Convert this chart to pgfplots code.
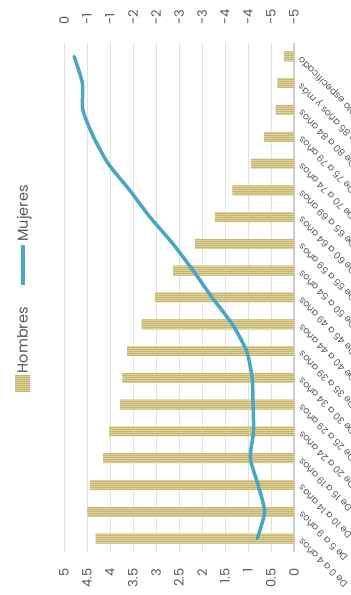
\documentclass[border=0pt]{standalone}
\usepackage{fontspec}
\setmainfont{Poppins}
\usepackage{graphicx}
\usepackage{pgfplots}
\pgfplotsset{compat=1.18}
\usetikzlibrary{patterns.meta}

\definecolor{hombres}{HTML}{DBD095}
\definecolor{hombresln}{HTML}{C6B874}
\definecolor{mujeres}{HTML}{4BA5C4}
\definecolor{txt}{HTML}{595959}
\definecolor{gridc}{HTML}{E2E2E2}
\definecolor{axisc}{HTML}{CDCDCD}

\begin{document}
\rotatebox{90}{%
\begin{tikzpicture}
\begin{axis}[
  name=main,
  scale only axis, width=509pt, height=230pt,
  xmin=-0.5, xmax=18.5, ymin=0, ymax=5,
  xtick={0,...,18},
  xticklabels={De 0 a 4 años, De 5 a 9 años, De 10 a 14 años, De 15 a 19 años,
    De 20 a 24 años, De 25 a 29 años, De 30 a 34 años, De 35 a 39 años,
    De 40 a 44 años, De 45 a 49 años, De 50 a 54 años, De 55 a 59 años,
    De 60 a 64 años, De 65 a 69 años, De 70 a 74 años, De 75 a 79 años,
    De 80 a 84 años, De 85 años y más, No especificado},
  ytick={0,0.5,...,5},
  ymajorgrids, grid style={gridc, line width=0.9pt},
  axis lines*=left,
  y axis line style={draw=none},
  x axis line style={axisc, line width=1.8pt},
  tick style={draw=none},
  /pgf/number format/assume math mode=true,
  yticklabel style={font=\fontsize{13}{13}\selectfont, text=txt, xshift=-13pt},
  xticklabel style={rotate=45, anchor=east, font=\fontsize{9.5}{9.5}\selectfont,
    text=txt, xshift=-2pt, yshift=-3pt},
  legend columns=2,
  legend style={at={(0.52,1.178)}, anchor=center, draw=none, fill=none,
    font=\fontsize{14.5}{14.5}\selectfont, text=txt,
    /tikz/every even column/.append style={column sep=18pt}},
]
\addplot[ybar, bar width=10pt, fill=hombres, draw=none,
  postaction={pattern={Lines[angle=0,distance=2pt,line width=0.45pt]}, pattern color=hombresln},
  legend image code/.code={\fill[hombres] (0pt,-7pt) rectangle (16pt,8pt);
    \fill[pattern={Lines[angle=0,distance=2pt,line width=0.45pt]}, pattern color=hombresln] (0pt,-7pt) rectangle (16pt,8pt);}]
coordinates {
  (0,4.31) (1,4.49) (2,4.44) (3,4.15) (4,4.02) (5,3.78) (6,3.73) (7,3.63)
  (8,3.31) (9,3.02) (10,2.63) (11,2.15) (12,1.72) (13,1.34) (14,0.93)
  (15,0.65) (16,0.40) (17,0.36) (18,0.22)
};
\addlegendentry{Hombres}
\addlegendimage{legend image code/.code={\draw[mujeres, line width=3.5pt] (0pt,0pt) -- (40pt,0pt);}}
\addlegendentry{Mujeres}
\end{axis}

\begin{axis}[
  scale only axis, width=509pt, height=230pt,
  xmin=-0.5, xmax=18.5, ymin=-5, ymax=0,
  hide x axis,
  axis y line*=right,
  y axis line style={draw=none},
  tick style={draw=none},
  ytick={-5,-4.5,...,0},
  yticklabels={-5,-5,-4,-4,-3,-3,-2,-2,-1,-1,0},
  yticklabel style={font=\fontsize{13}{13}\selectfont, text=txt, xshift=15pt},
]
\addplot[mujeres, line width=3.5pt, line cap=round, line join=round, smooth, tension=0.4]
coordinates {
  (0,-4.20) (1,-4.36) (2,-4.22) (3,-4.05) (4,-4.12) (5,-4.11) (6,-4.09)
  (7,-3.97) (8,-3.66) (9,-3.22) (10,-2.81) (11,-2.37) (12,-1.87) (13,-1.43)
  (14,-0.96) (15,-0.64) (16,-0.41) (17,-0.40) (18,-0.22)
};
\end{axis}

\pgfresetboundingbox
\path[use as bounding box] ([shift={(-43pt,-57pt)}]main.south west) rectangle ([shift={(43pt,64pt)}]main.north east);
\end{tikzpicture}}
\end{document}
